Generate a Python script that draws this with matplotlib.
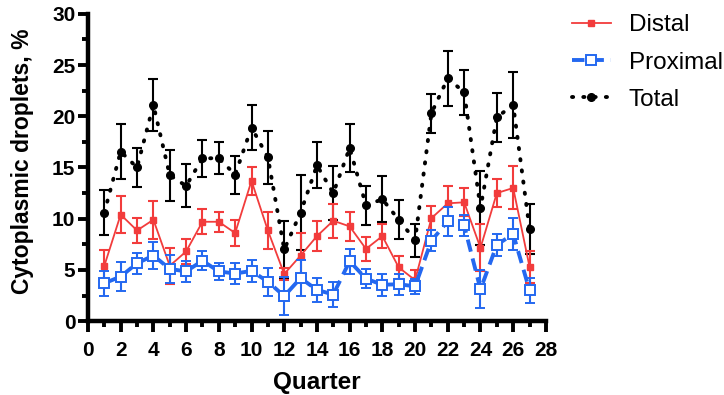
import matplotlib
matplotlib.use("Agg")
import matplotlib.pyplot as plt
from matplotlib.ticker import MultipleLocator

plt.rcParams['font.family'] = ['Liberation Sans', 'DejaVu Sans']

# quarters 1..27
quarter = list(range(1, 28))

# Distal (red)
distal = [5.4, 10.4, 8.85, 9.9, 5.4, 6.8, 9.7, 9.7, 8.6, 13.7, 8.85, 4.6, 6.4, 8.3,
          9.8, 9.25, 7.05, 8.3, 5.25, 4.0, 10.05, 11.5, 11.6, 7.15, 12.5, 13.0, 5.3]
distal_err = [1.5, 1.8, 1.25, 1.85, 1.75, 1.25, 1.2, 1.0, 1.25, 1.35, 1.8, 0.6, 2.2, 1.5,
              1.65, 1.45, 1.2, 1.2, 1.15, 1.0, 1.2, 1.7, 1.35, 2.3, 1.4, 2.1, 1.55]

# Proximal (blue)
proximal = [3.7, 4.35, 5.65, 6.4, 5.1, 4.85, 5.9, 4.85, 4.65, 4.9, 3.85, 2.45, 4.2, 3.05,
            2.6, 5.85, 4.15, 3.55, 3.6, 3.4, 7.85, 9.75, 9.35, 3.1, 7.45, 8.5, 3.0]
proximal_err = [1.2, 1.4, 1.0, 1.35, 1.4, 1.05, 0.9, 0.8, 1.0, 1.1, 1.35, 1.85, 1.75, 1.2,
                1.2, 1.2, 0.95, 1.1, 1.05, 0.75, 1.0, 1.4, 1.05, 1.85, 1.1, 1.6, 1.2]

# Total (black)
total = [10.6, 16.55, 15.0, 21.1, 14.25, 13.2, 15.9, 15.9, 14.3, 18.9, 16.0, 7.0, 10.6, 15.2,
         12.5, 16.9, 11.3, 11.9, 9.9, 7.9, 20.3, 23.7, 22.35, 11.05, 19.9, 21.1, 9.0]
total_err = [2.2, 2.65, 1.95, 2.55, 2.5, 2.1, 1.8, 1.55, 1.85, 2.2, 2.6, 2.75, 3.65, 2.25,
             2.6, 2.3, 1.9, 2.25, 1.9, 1.6, 1.9, 2.7, 2.2, 3.6, 2.4, 3.25, 2.4]

red = '#f23c3c'
blue = '#2468f0'

fig = plt.figure(figsize=(7.24, 3.95), dpi=100)
ax = fig.add_axes([0.1215, 0.187, 0.6325, 0.778])

tot = ax.errorbar(quarter, total, yerr=total_err, color='black', ls=(0, (0.3, 2.6)), lw=2.8,
                  marker='o', ms=5.5, elinewidth=1.5, capsize=3.8, capthick=1.5,
                  label='Total', zorder=2)
tot[0].set_dash_capstyle('round')
ax.errorbar(quarter, distal, yerr=distal_err, color=red, ls='-', lw=1.3,
            marker='s', ms=5, elinewidth=1.5, capsize=3.8, capthick=1.5, label='Distal', zorder=3)
ax.errorbar(quarter, proximal, yerr=proximal_err, color=blue, ls=(0, (3.2, 1.8)), lw=2.8,
            marker='s', ms=6.5, mfc='white', mec=blue, mew=1.4,
            elinewidth=1.5, capsize=3.8, capthick=1.5, label='Proximal', zorder=4)

ax.set_xlim(0, 28)
ax.set_ylim(0, 30)
ax.xaxis.set_major_locator(MultipleLocator(2))
ax.xaxis.set_minor_locator(MultipleLocator(1))
ax.yaxis.set_major_locator(MultipleLocator(5))
ax.yaxis.set_minor_locator(MultipleLocator(2.5))

for s in ['top', 'right']:
    ax.spines[s].set_visible(False)
for s in ['left', 'bottom']:
    ax.spines[s].set_linewidth(3.2)

ax.tick_params(axis='both', which='major', width=2.8, labelsize=15)
ax.tick_params(axis='x', which='major', length=8, pad=6)
ax.tick_params(axis='y', which='major', length=7, pad=2)
ax.tick_params(axis='x', which='minor', length=4.5, width=2.8)
ax.tick_params(axis='y', which='minor', length=4, width=2.8)
for lab in ax.get_xticklabels() + ax.get_yticklabels():
    lab.set_fontweight('bold')

ax.set_xlabel('Quarter', fontsize=17.5, fontweight='bold')
ax.set_ylabel('Cytoplasmic droplets, %', fontsize=16.5, fontweight='bold')
ax.xaxis.set_label_coords(0.5, -0.162)
ax.yaxis.set_label_coords(-0.118, 0.52)

handles, labels = ax.get_legend_handles_labels()
order = [labels.index('Distal'), labels.index('Proximal'), labels.index('Total')]
leg = ax.legend([handles[i][0] for i in order], [labels[i] for i in order],
                loc='upper left', bbox_to_anchor=(1.035, 1.03), frameon=False,
                fontsize=17.5, handlelength=1.6, labelspacing=0.63, handletextpad=0.75,
                borderaxespad=0)

fig.savefig('out.png', dpi=100)
